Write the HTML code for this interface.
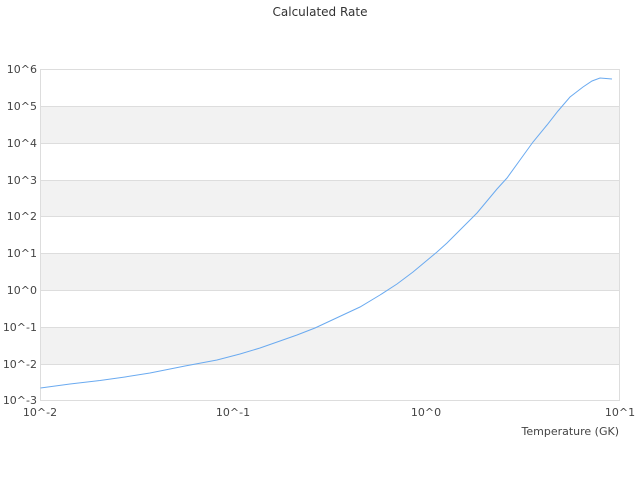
<!DOCTYPE html>
<html><head><style>
html,body{margin:0;padding:0;background:#fff;width:640px;height:480px;overflow:hidden}
text{font-family:"DejaVu Sans",sans-serif;font-size:11px;fill:#444}
</style></head><body>
<svg width="640" height="480" viewBox="0 0 640 480">
<text x="320" y="16" text-anchor="middle" style="font-size:12px;fill:#333">Calculated Rate</text>
<rect x="40" y="106" width="580" height="37" fill="#f2f2f2"/>
<rect x="40" y="180" width="580" height="36.5" fill="#f2f2f2"/>
<rect x="40" y="253.5" width="580" height="37" fill="#f2f2f2"/>
<rect x="40" y="327.5" width="580" height="37" fill="#f2f2f2"/>
<g stroke="#ddd" stroke-width="1">
<line x1="40" y1="69.5" x2="620" y2="69.5"/>
<line x1="40" y1="106.5" x2="620" y2="106.5"/>
<line x1="40" y1="143.5" x2="620" y2="143.5"/>
<line x1="40" y1="180.5" x2="620" y2="180.5"/>
<line x1="40" y1="216.5" x2="620" y2="216.5"/>
<line x1="40" y1="253.5" x2="620" y2="253.5"/>
<line x1="40" y1="290.5" x2="620" y2="290.5"/>
<line x1="40" y1="327.5" x2="620" y2="327.5"/>
<line x1="40" y1="364.5" x2="620" y2="364.5"/>
<line x1="40" y1="400.5" x2="620" y2="400.5"/>
<line x1="40.5" y1="69" x2="40.5" y2="401"/>
<line x1="619.5" y1="69" x2="619.5" y2="401"/>
</g>
<g text-anchor="end">
<text x="37" y="73">10^6</text>
<text x="37" y="110">10^5</text>
<text x="37" y="147">10^4</text>
<text x="37" y="184">10^3</text>
<text x="37" y="220">10^2</text>
<text x="37" y="257">10^1</text>
<text x="37" y="294">10^0</text>
<text x="37" y="331">10^-1</text>
<text x="37" y="368">10^-2</text>
<text x="37" y="404">10^-3</text>
</g>
<g text-anchor="middle">
<text x="40" y="416">10^-2</text>
<text x="233" y="416">10^-1</text>
<text x="426" y="416">10^0</text>
<text x="620" y="416">10^1</text>
</g>
<text x="619" y="435" text-anchor="end">Temperature (GK)</text>
<polyline fill="none" stroke="#6aaaf0" stroke-width="1" points="40.5,388 70,384 100,380.5 125,377 150,373 185,366 217,360 240,354 260,348 280,341 297,335 315,328 330,321 345,314 360,307 380,295 397,284 413,272 425,262 437,252 447,243 457,233 467,223 477,213 487,201 497,189 507,178 520,160 533,142 547,125 558,111 570,97 583,87 592,81 600,78 606,78.5 612,79"/>
</svg>
</body></html>
